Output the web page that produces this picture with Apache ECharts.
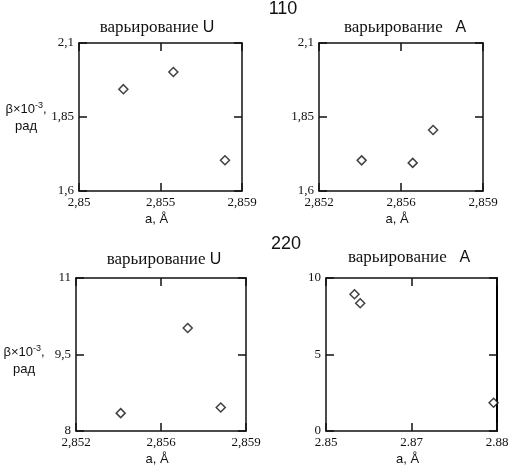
<!DOCTYPE html>
<html><head><meta charset="utf-8">
<script src="https://cdn.jsdelivr.net/npm/echarts@6/dist/echarts.min.js"></script>
<style>html,body{margin:0;padding:0;background:#fff}#c{width:512px;height:473px}</style>
</head><body><div id="c"></div>
<script>
// data
const u110X = [2.85245, 2.85521, 2.85806];
const u110Y = [1.944, 2.002, 1.704];
const a110X = [2.85382, 2.8560, 2.85687];
const a110Y = [1.7035, 1.695, 1.806];
const u220X = [2.85384, 2.8566, 2.85796];
const u220Y = [8.35, 10.02, 8.46];
const a220X = [2.855, 2.856, 2.8794];
const a220Y = [8.94, 8.35, 1.85];
// axis ranges
const xRanges = [[2.85, 2.859], [2.852, 2.859], [2.852, 2.859], [2.85, 2.88]];
const yRanges = [[1.6, 2.1], [1.6, 2.1], [8, 11], [0, 10]];
const xDecimals = [3, 3, 3, 2];
const xSeps = [',', ',', ',', '.'];
const panelTitles = ['U', 'A', 'U', 'A'];
const groupLabels = ['110', '220'];
const xName = 'a, Å';

const grids = [
  {left: 79, top: 43, width: 163, height: 148},
  {left: 319, top: 43, width: 164, height: 148},
  {left: 76, top: 278, width: 170, height: 153},
  {left: 326, top: 278, width: 171, height: 153}
];
const series = [[u110X, u110Y], [a110X, a110Y], [u220X, u220Y], [a220X, a220Y]];

function fmt(v, dec, sep) {
  const p = Math.pow(10, dec);
  const r = Math.round(v * p + 1e-6) / p;
  return String(parseFloat(r.toFixed(dec))).replace('.', sep);
}
const lineCol = '#111';
const serif = 'Liberation Serif';
const sans = 'Liberation Sans';

const xAxes = [], yAxes = [], ser = [];
grids.forEach((g, i) => {
  const [x0, x1] = xRanges[i], [y0, y1] = yRanges[i];
  const xi = (x1 - x0) / 2, yi = (y1 - y0) / 2;
  const axLine = {show: true, onZero: false, lineStyle: {color: lineCol, width: 1.5}};
  const tick = {show: true, inside: true, length: 8, lineStyle: {color: lineCol, width: 1.5}};
  xAxes.push({
    type: 'value', gridIndex: i, position: 'bottom', min: x0, max: x1, interval: xi,
    axisLine: axLine, axisTick: tick, splitLine: {show: false},
    axisLabel: {margin: 5, color: '#111', fontFamily: serif, fontSize: 13,
      formatter: v => fmt(v, xDecimals[i], xSeps[i])},
    name: xName, nameLocation: 'middle', nameGap: 22,
    nameTextStyle: {fontFamily: sans, fontSize: 13, color: '#111', padding: [0, 8, 0, 0]}
  });
  xAxes.push({
    type: 'value', gridIndex: i, position: 'top', min: x0, max: x1, interval: xi,
    axisLine: axLine, axisTick: tick, splitLine: {show: false}, axisLabel: {show: false}
  });
  yAxes.push({
    type: 'value', gridIndex: i, position: 'left', min: y0, max: y1, interval: yi,
    axisLine: axLine, axisTick: tick, splitLine: {show: false},
    axisLabel: {margin: 5, color: '#111', fontFamily: serif, fontSize: 13,
      formatter: v => fmt(v, 2, ',')}
  });
  yAxes.push({
    type: 'value', gridIndex: i, position: 'right', min: y0, max: y1, interval: yi,
    axisLine: i === 3 ? {show: true, onZero: false, lineStyle: {color: '#000', width: 2}} : axLine,
    axisTick: tick, splitLine: {show: false}, axisLabel: {show: false}
  });
  ser.push({
    type: 'scatter', xAxisIndex: i * 2, yAxisIndex: i * 2,
    data: series[i][0].map((x, k) => [x, series[i][1][k]]),
    symbol: 'diamond', symbolSize: 9,
    itemStyle: {color: '#fff', borderColor: '#111', borderWidth: 1.5}
  });
});

const titlePos = [[157, 28], [405, 28], [164, 260], [409, 258]];
const graphics = [];
titlePos.forEach((p, i) => {
  const gap = panelTitles[i] === 'A' ? '   ' : ' ';
  graphics.push({
    type: 'text', x: p[0], y: p[1],
    style: {
      text: '{s|варьирование}{g|' + gap + '}{a|' + panelTitles[i] + '}',
      align: 'center', verticalAlign: 'middle',
      rich: {
        s: {fontFamily: serif, fontSize: 17, fill: '#111'},
        g: {fontFamily: serif, fontSize: 17},
        a: {fontFamily: sans, fontSize: 16, fill: '#111'}
      }
    }
  });
});
[[283, 9], [286, 244]].forEach((p, i) => {
  graphics.push({
    type: 'text', x: p[0], y: p[1],
    style: {text: groupLabels[i], align: 'center', verticalAlign: 'middle',
      fontFamily: sans, fontSize: 18, fill: '#111'}
  });
});
[[26, 118], [24, 361]].forEach(p => {
  graphics.push({
    type: 'text', x: p[0], y: p[1],
    style: {
      text: '{n|β×10}{sup|-3}{n|,}\n{n|рад}',
      align: 'center', verticalAlign: 'middle',
      rich: {
        n: {fontFamily: sans, fontSize: 13, fill: '#111', lineHeight: 17},
        sup: {fontFamily: sans, fontSize: 9, fill: '#111', verticalAlign: 'top', lineHeight: 17, padding: [0, 0, 9, 0]}
      }
    }
  });
});

const chart = echarts.init(document.getElementById('c'));
chart.setOption({
  backgroundColor: '#fff',
  animation: false,
  grid: grids,
  xAxis: xAxes,
  yAxis: yAxes,
  series: ser,
  graphic: graphics
});
</script>
</body></html>
